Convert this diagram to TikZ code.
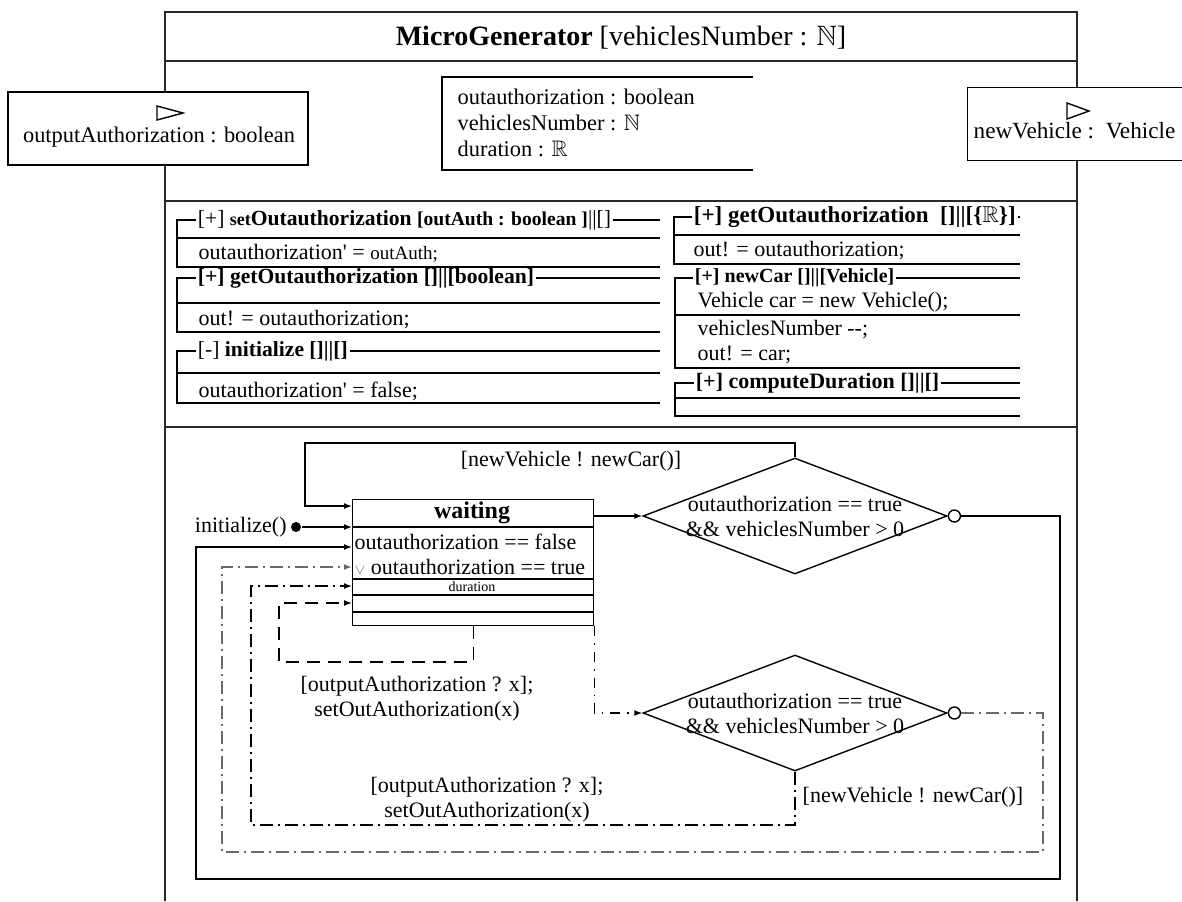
\documentclass[tikz,border=0pt]{standalone}
\usepackage{amsmath, amssymb}
\usepackage{fontspec}
\setmainfont{Liberation Serif}
\usepackage{tikz}
\usetikzlibrary{arrows.meta, positioning, calc, shapes.geometric}
\definecolor{framegray}{RGB}{40,40,40}
\definecolor{loopgray}{RGB}{105,105,105}

\begin{document}
\begin{tikzpicture}[x=0.5pt, y=-0.5pt, line width=0.7pt,
  txt/.style={font=\fontsize{11}{12.5}\selectfont, inner sep=0pt},
  optxt/.style={txt, anchor=west},
  hd/.style={font=\bfseries\fontsize{10.8}{13}\selectfont, inner sep=0.6pt, anchor=west},
  flow/.style={-{Latex[length=4pt, width=3pt]}},
  dashdot/.style={dash pattern=on 6.5pt off 2.5pt on 1pt off 2.5pt},
  dotdash/.style={dash pattern=on 5pt off 3.5pt on 0.8pt off 3.5pt},
  selfdash/.style={dash pattern=on 6.5pt off 4pt},
  portbox/.style={draw, fill=white, inner sep=0pt},
  guard/.style={diamond, draw, minimum width=152pt, minimum height=58pt, inner sep=0pt},
  outpin/.style={circle, draw, fill=white, minimum size=6pt, inner sep=0pt, anchor=west}]

  \useasboundingbox (0,0) rectangle (1182,901);

  \draw[framegray, line width=1.2pt] (165,901) -- (165,12) -- (1077,12) -- (1077,901);
  \draw[framegray, line width=1.2pt] (165,61) -- (1077,61) (165,201) -- (1077,201) (165,427) -- (1077,427);
  \node[font=\fontsize{14}{16}\selectfont, inner sep=0pt] (title) at (621,38) {\textbf{MicroGenerator} [vehiclesNumber : $\mathbb{N}$]};

  \node[portbox, minimum width=150pt, minimum height=36.5pt] (inport) at (158,128.5) {};
  \draw (157,106) -- (183,113) -- (157,120) -- cycle;
  \node[txt, font=\fontsize{11.2}{12.5}\selectfont] (inportlbl) at (159,137) {outputAuthorization : boolean};
  \node[portbox, minimum width=114pt, minimum height=36.5pt, anchor=north west] (outport) at (967,87) {};
  \draw (1067,103) -- (1089,111) -- (1067,119) -- cycle;
  \node[optxt, font=\fontsize{11.6}{13}\selectfont] (outportlbl) at (973,131) {newVehicle :\ \ Vehicle};

  \draw (753,77) -- (442,77) -- (442,170) -- (753,170);
  \node[optxt, font=\fontsize{11.2}{12.5}\selectfont] (attr1) at (457,97) {outauthorization : boolean};
  \node[optxt, font=\fontsize{11.2}{12.5}\selectfont] (attr2) at (457,123) {vehiclesNumber : $\mathbb{N}$};
  \node[optxt, font=\fontsize{11.2}{12.5}\selectfont] (attr3) at (457,149) {duration : $\mathbb{R}$};

  \node[hd] (op1h) at (196,220) {{\mdseries[+]} {\fontsize{9}{10}\selectfont set}Outauthorization {\fontsize{9.8}{11}\selectfont [outAuth : boolean ]}\mdseries||[]};
  \draw (op1h.east) -- (660,220);
  \draw (op1h.west) -- (177,220) -- (177,267) -- (660,267);
  \draw (177,238) -- (660,238);
  \node[optxt] (op1b) at (198,253) {outauthorization\textquotesingle{} = {\fontsize{9.5}{11}\selectfont outAuth;}};

  \node[hd] (op2h) at (196,278) {[+] getOutauthorization []||[boolean]};
  \draw (op2h.east) -- (660,278);
  \draw (op2h.west) -- (177,278) -- (177,332) -- (660,332);
  \draw (177,303) -- (660,303);
  \node[optxt] (op2b) at (198,320) {out! = outauthorization;};

  \node[hd] (op3h) at (196,351) {{\mdseries[-]} initialize []||[]};
  \draw (op3h.east) -- (660,351);
  \draw (op3h.west) -- (177,351) -- (177,403) -- (660,403);
  \draw (177,373) -- (660,373);
  \node[optxt] (op3b) at (198,391) {outauthorization\textquotesingle{} = false;};

  \node[hd, font=\bfseries\fontsize{11.5}{13}\selectfont] (op4h) at (692,217) {[+] getOutauthorization\ \ []||[\{$\mathbb{R}$\}]};
  \draw (op4h.east) -- (1020,217);
  \draw (op4h.west) -- (674,217) -- (674,264) -- (1020,264);
  \draw (674,235) -- (1020,235);
  \node[optxt] (op4b) at (693,251) {out! = outauthorization;};

  \node[hd, font=\bfseries\fontsize{10}{12}\selectfont] (op5h) at (693,278) {[+] newCar []||[Vehicle]};
  \draw (op5h.east) -- (1020,278);
  \draw (op5h.west) -- (675,278) -- (675,368) -- (1020,368);
  \draw (675,315) -- (1020,315);
  \node[optxt] (op5b1) at (697,302) {Vehicle car = new Vehicle();};
  \node[optxt] (op5b2) at (697,330) {vehiclesNumber -{}-;};
  \node[optxt] (op5b3) at (697,355) {out! = car;};

  \node[hd, font=\bfseries\fontsize{11}{13}\selectfont] (op6h) at (694,383) {[+] computeDuration []||[]};
  \draw (op6h.east) -- (1020,383);
  \draw (op6h.west) -- (675,383) -- (675,416) -- (1020,416);
  \draw (675,398) -- (1020,398);

  \node[draw, fill=white, minimum width=120.5pt, minimum height=63pt, anchor=north west, inner sep=0pt] (waiting) at (352,499) {};
  \node[font=\bfseries\fontsize{12}{14}\selectfont, inner sep=0pt] (waitingname) at (472,513) {waiting};
  \foreach \dy in {28,80,96,113}
    \draw ($(waiting.north west)+(0,\dy)$) -- ($(waiting.north east)+(0,\dy)$);
  \node[optxt] (inv1) at (354,542) {outauthorization == false};
  \node[optxt] (inv2) at (354,567) {{\color{gray}\scriptsize$\vee$} outauthorization == true};
  \node[font=\fontsize{7}{8}\selectfont, inner sep=0pt] (dur) at (472,587) {duration};
  \foreach \n/\dy in {1/7, 2/28, 3/48, 4/68, 5/87, 6/104}
    \coordinate (in\n) at ($(waiting.north west)+(0,\dy)$);

  \node[guard] (g1) at (795,516) {};
  \node[txt, align=center] (g1txt) at (g1.center) {outauthorization == true\\\&\& vehiclesNumber > 0};
  \node[outpin] (g1out) at (g1.east) {};
  \node[guard] (g2) at (795,713) {};
  \node[txt, align=center] (g2txt) at (g2.center) {outauthorization == true\\\&\& vehiclesNumber > 0};
  \node[outpin] (g2out) at (g2.east) {};

  \node[circle, fill, minimum size=5pt, inner sep=0pt] (init) at (296,527) {};
  \node[txt, left=1.5pt of init] (initlbl) {initialize()};

  \coordinate (loopTL) at (305,443);
  \draw[flow] (g1.north) |- (loopTL) |- (in1);
  \node[txt] (lbltop) at (571,461) {[newVehicle ! newCar()]};
  \draw[flow] (init) -- (in2);
  \draw[flow] (g1.west -| waiting.east) -- (g1.west);
  \coordinate (retR) at (1060,879);
  \coordinate (retL) at (196,879);
  \draw[flow] (g1out) -| (retR) -- (retL) |- (in3);
  \coordinate (grR) at (1043,852);
  \coordinate (grL) at (222,852);
  \draw[flow, loopgray, dashdot, line width=0.9pt] (g2out) -| (grR) -- (grL) |- (in4);
  \coordinate (dcL) at (251,825);
  \draw[flow, dashdot] (g2.south) |- (dcL) |- (in5);
  \node[optxt] (lblg2) at (802,797) {[newVehicle ! newCar()]};
  \node[txt, align=center] (lblout2) at (487,800) {[outputAuthorization ? x];\\setOutAuthorization(x)};
  \coordinate (slL) at (279,662);
  \draw[flow, selfdash] (waiting.south) |- (slL) |- (in6);
  \node[txt, align=center] (lblout1) at (417,699) {[outputAuthorization ? x];\\setOutAuthorization(x)};
  \draw[flow, dotdash] (waiting.south east) |- (g2.west);
\end{tikzpicture}
\end{document}
